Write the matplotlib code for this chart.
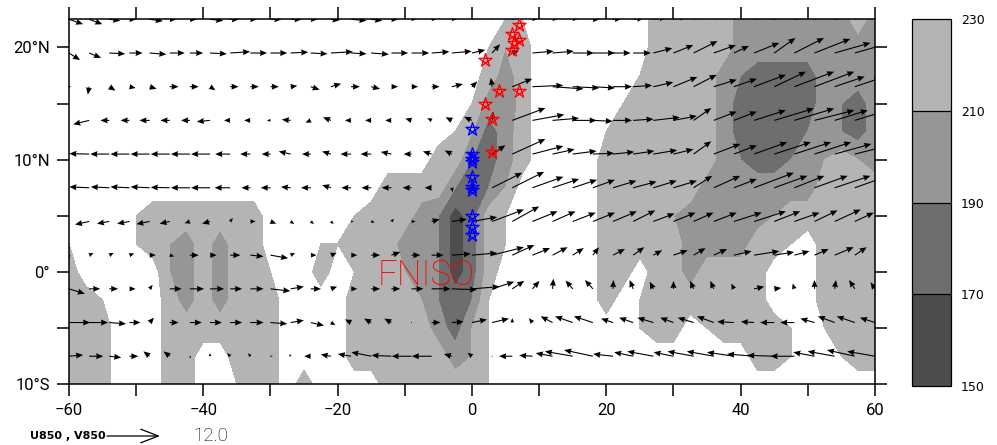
import numpy as np
import matplotlib
matplotlib.use("Agg")
import matplotlib.pyplot as plt
from matplotlib import font_manager as fm
from matplotlib.path import Path

# ---- shaded field (W m-2) on a 2.5 deg grid ----
# one string per latitude (22.5N down to 10S), 60W..60E every 2.5 deg
# digit d stands for 250 - 10*d : 1 clear, 3 = 210-230, 5 = 190-210, 7 = 170-190, 9 = 150-170
olr_lon = np.arange(-60, 60.1, 2.5)
olr_lat = np.arange(22.5, -10.1, -2.5)
olr_rows = [
    "1111111111" "1111111111" "1111112211" "1111133333" "555555535",  # 22.5
    "1111111111" "1111111111" "1111124311" "1111133333" "555555555",  # 20
    "1111111111" "1111111111" "1111135311" "1111233335" "677775555",  # 17.5
    "1111111111" "1111111111" "1111256311" "1112333335" "777775675",  # 15
    "1111111111" "1111111111" "1112475311" "1123333335" "777765675",  # 12.5
    "1111111111" "1111111111" "1133675311" "1133333335" "677654345",  # 10
    "1111111111" "1111111113" "3336764111" "1133333355" "555553333",  # 7.5
    "1111233333" "3311111233" "3569732111" "1133334555" "554333333",  # 5
    "2111234535" "3311122333" "5569732111" "1133333555" "533213333",  # 2.5
    "3111114535" "3321131233" "4569731111" "1133133533" "331113333",  # 0
    "3321113535" "3331111333" "3467621111" "1131233333" "331113333",  # -2.5
    "3331113333" "3331111333" "3357421111" "1111233123" "333212334",  # -5
    "3331113311" "3331111333" "3335421111" "1111111111" "133211233",  # -7.5
    "3331113311" "2331311113" "3333321111" "1111111111" "111111111",  # -10
]
olr = np.array([[250 - 10 * int(c) for c in row] for row in olr_rows], dtype=float)
olr_levels = [150, 170, 190, 210, 230]
olr_colors = ["#4d4d4d", "#6e6e6e", "#969696", "#b4b4b4"]

# ---- 850 hPa wind (m/s), 3 deg grid ----
vec_lon = np.arange(-60, 61, 3)
vec_lat = [22.5, 19.5, 16.5, 13.5, 10.5, 7.5, 4.5, 1.5, -1.5, -4.5, -7.5]
u850 = [
    [3.2, 3.0, 2.5, 1.5, 3.0, 1.5, 1.5, 3.0, 2.0, 1.5, 2.5, 2.5, 1.5, 2.0, 3.5, 2.5, 1.5, 1.0, 1.0, 1.0,
     0.5, 0.3, 0.5, 1.0, 1.0, 1.0, 1.5, 2.0, 2.5, 3.0, 3.0, 3.5, 3.5, 3.5, 4.0, 4.0, 4.5, 4.5, 4.5, 4.5, 4.5],
    [2.5, 2.7, 3.6, 3.0, 3.8, 3.4, 3.0, 3.8, 4.5, 3.8, 3.8, 4.0, 3.8, 5.0, 3.5, 4.0, 3.8, 4.0, 4.0, 4.5,
     3.0, 1.8, 1.5, 4.8, 4.8, 4.8, 5.0, 4.0, 4.0, 4.3, 4.5, 5.4, 5.0, 3.4, 5.7, 4.8, 6.7, 8.1, 8.1, 7.0, 7.0],
    [0.5, -0.3, 1.4, 1.4, 1.6, 2.0, 2.0, 1.2, 1.9, 1.9, 1.9, 1.5, 2.0, 2.3, 2.0, 2.0, 1.5, 1.5, 1.8, 2.5,
     1.2, -0.3, 4.5, 7.0, 7.0, 6.0, 5.0, 4.3, 4.3, 4.5, 5.4, 5.2, 5.2, 5.2, 7.2, 7.2, 9.0, 9.0, 6.8, 6.0, 6.0],
    [-3.0, -3.6, -2.0, -2.0, -2.3, -2.1, -2.0, -3.0, -1.4, -1.4, -0.8, -2.0, -1.2, -1.8, -1.4, -1.4, -1.4, -1.4, -1.0, -1.4,
     -1.8, 0.3, 7.5, 7.2, 6.0, 5.4, 4.5, 4.3, 4.6, 6.0, 5.3, 4.0, 5.2, 5.2, 7.2, 9.0, 9.0, 9.0, 7.5, 7.5, 7.0],
    [-5.0, -4.5, -4.3, -4.3, -4.3, -4.3, -4.3, -4.3, -3.4, -2.3, -2.0, -2.7, -2.0, -2.0, -2.4, -2.4, -2.4, -1.8, -2.0, -1.6,
     -1.0, 3.0, 7.5, 7.0, 5.0, 5.4, 4.8, 4.8, 4.8, 5.4, 4.5, 4.0, 6.0, 5.2, 7.5, 8.3, 8.3, 8.3, 8.3, 8.0, 8.0],
    [-5.0, -4.5, -4.2, -4.3, -4.3, -4.3, -4.3, -4.3, -3.5, -2.0, -2.2, -2.2, -2.2, -2.0, -2.2, -2.2, -2.2, -2.0, -1.6, 0.2,
     0.8, 6.8, 7.2, 7.0, 6.0, 5.5, 5.0, 5.3, 5.3, 5.3, 5.3, 4.2, 6.0, 5.2, 9.0, 7.5, 6.8, 7.5, 8.1, 7.0, 7.0],
    [-2.0, -3.2, -2.8, -2.8, -3.0, -2.3, -1.2, -1.8, 0.6, 1.2, 1.3, 0.8, 0.7, 0.6, 0.6, 0.8, 0.6, 0.9, 1.8, 3.4,
     5.7, 7.2, 6.1, 5.7, 5.2, 5.2, 5.0, 5.4, 5.0, 4.8, 5.0, 4.5, 5.2, 6.3, 7.2, 5.9, 5.7, 5.2, 5.9, 4.3, 4.0],
    [0.0, 1.0, 1.0, 1.1, 1.4, 1.0, 2.0, 1.5, 2.3, 3.0, 4.0, 1.0, 1.3, 1.3, 1.4, 2.0, 2.0, 2.0, 2.7, 4.3,
     5.7, 7.2, 5.0, 4.0, 3.4, 2.5, 1.4, 2.7, 2.5, 2.0, 3.2, 2.7, 3.0, 4.0, 5.7, 4.5, 3.4, 3.2, 4.3, 2.7, 2.0],
    [3.6, 2.5, 2.0, 1.4, 0.7, 2.7, 3.2, 3.2, 2.7, 3.0, 4.5, 3.0, 2.3, 1.4, 1.4, 2.0, 2.0, 2.7, 4.3, 5.7,
     6.3, 5.0, 2.7, 1.6, 0.2, -1.6, -1.8, 0.1, -0.8, -0.8, 0.0, -0.8, -0.8, -0.6, 2.3, 1.6, -0.4, 0.0, 0.3, -1.3, -1.0],
    [4.8, 4.3, 3.8, 2.5, 1.0, 2.0, 2.7, 2.7, 2.7, 3.0, 3.8, 3.0, 3.0, 1.0, -1.4, -1.6, -1.6, 0.0, 2.0, 2.7,
     3.4, 3.8, 0.0, -0.8, -2.7, -4.0, -4.3, -2.7, -3.2, -3.6, -3.0, -3.6, -3.8, -3.8, -3.0, -3.2, -3.2, -3.2, -3.8, -4.1, -3.4],
    [3.2, 3.2, 2.7, 2.0, -1.4, -1.4, 0.2, 0.0, -0.7, -0.5, 0.5, -0.3, -1.5, -2.3, -3.0, -4.5, -4.5, -4.5, -4.5, -1.8,
     -1.0, 0.0, -3.0, -3.0, -3.8, -6.3, -6.5, -4.5, -4.3, -5.9, -4.5, -5.9, -6.1, -6.1, -6.1, -6.1, -5.4, -4.8, -6.1, -6.3, -6.3],
]
v850 = [
    [-1.1, -1.1, -0.3, 0.0, -0.4, 0.0, 0.0, -0.3, 0.0, 0.0, 0.0, 0.0, 0.0, -0.2, -0.3, -0.3, 0.0, 0.0, 0.0, 0.0,
     0.0, 0.0, 0.0, 0.0, 0.0, 0.0, 0.0, 0.2, 0.3, 0.5, 0.8, 1.0, 1.0, 1.0, 1.2, 1.2, 1.2, 1.2, 1.2, 1.2, 1.2],
    [-1.6, -1.1, -0.2, 0.0, -0.3, 0.0, 0.0, -0.2, 0.3, 0.0, 0.0, 0.2, -0.2, 0.3, -0.2, -0.3, 0.0, 0.0, 0.3, 0.4,
     0.7, 2.0, 0.5, 0.4, 0.4, 0.0, 0.0, 0.0, 0.0, 1.1, 1.8, 2.7, 1.8, 1.6, 2.3, 3.4, 3.4, 3.2, 2.3, 2.0, 2.0],
    [0.0, -1.8, -0.9, -0.3, -0.5, 0.0, 0.0, -0.8, 0.0, 0.0, 0.0, 0.2, -0.7, 0.7, 0.0, -0.5, 0.0, 0.0, 0.0, 0.6,
     1.2, 2.0, 1.8, 0.3, -0.5, -0.3, -0.3, 0.0, 0.3, 1.0, 2.2, 2.7, 1.6, 1.8, 2.7, 3.4, 3.4, 3.4, 2.3, 2.0, 2.0],
    [-0.5, -0.9, 0.0, 0.0, 0.0, 0.0, 0.0, -0.3, 0.0, 0.0, 0.0, 0.2, -0.5, 0.7, 0.0, 0.0, 0.0, 0.4, 0.5, 0.7,
     0.8, 1.9, 2.8, 1.3, 0.5, 0.0, -0.2, 0.0, 0.3, 0.7, 1.0, 2.8, 2.0, 2.0, 2.3, 2.7, 2.7, 2.3, 2.3, 2.3, 2.0],
    [0.0, 0.1, 0.0, 0.0, 0.0, 0.0, 0.0, 0.0, 0.0, 0.0, 0.0, 0.6, 0.0, 0.6, 0.0, 0.0, 0.5, 0.0, 0.6, 0.8,
     0.5, 2.0, 3.4, 1.8, 1.1, 0.7, 0.2, 0.5, 0.7, 0.9, 1.1, 2.9, 2.3, 2.0, 2.7, 2.7, 2.7, 2.7, 2.3, 2.0, 2.0],
    [0.0, 0.2, 0.2, 0.2, 0.2, 0.1, 0.0, 0.0, 0.0, 0.0, 0.0, 0.2, 0.0, 0.6, 0.0, 0.0, 0.0, 0.0, 0.0, -1.0,
     0.5, 3.4, 3.6, 2.5, 2.0, 1.8, 1.8, 1.6, 1.4, 1.6, 1.6, 2.7, 2.7, 2.0, 3.4, 2.7, 2.7, 2.7, 2.7, 2.5, 2.5],
    [-0.5, -0.7, -0.5, -0.5, -0.6, -0.5, -0.4, -0.5, 0.8, 0.0, -0.5, -0.6, -0.6, -0.6, 0.0, -0.2, 0.6, 0.0, 0.5, 0.5,
     1.0, 2.7, 3.4, 2.3, 2.3, 2.0, 2.0, 2.3, 2.5, 1.8, 2.0, 2.0, 2.0, 2.0, 2.3, 2.3, 2.0, 2.5, 2.7, 2.0, 2.0],
    [-0.8, 0.5, 0.5, 0.4, 0.0, -0.3, 0.0, 0.0, 0.0, -0.3, -0.7, 0.5, 0.0, 0.5, 0.0, 0.0, 0.7, 0.0, 0.0, 0.3,
     0.5, 1.8, 2.3, 1.6, 1.8, 1.6, 1.8, 1.4, 1.8, 1.1, 1.1, 1.6, 1.4, 0.9, 0.9, 0.7, 0.9, 1.4, 1.8, 1.8, 1.5],
    [-1.1, 0.0, 0.0, 0.0, 0.9, 0.0, 0.0, 0.0, 0.0, 0.0, -0.5, 0.5, 0.0, 0.5, 0.0, 0.0, 0.0, 0.0, 0.0, -0.2,
     0.5, 1.6, 1.8, 1.8, 2.3, 1.9, 2.0, 2.0, 2.0, 1.6, 1.8, 1.8, 1.8, 1.2, 0.5, 0.2, 1.2, 2.0, 2.0, 2.0, 1.5],
    [0.0, 0.0, -0.3, 0.0, 1.1, 0.0, 0.0, 0.0, 0.0, 0.0, -0.3, 0.5, -0.7, -0.6, 0.7, 0.9, 0.9, 0.0, 0.0, 0.2,
     0.7, 0.9, 1.0, 1.0, 1.4, 1.4, 1.4, 0.9, 1.1, 1.1, 1.1, 1.1, 1.4, 0.2, 0.2, 0.0, 0.0, 0.9, 1.4, 1.4, 1.1],
    [0.3, 0.0, -0.3, 0.0, 1.1, 1.1, -0.5, 0.7, 0.7, 0.7, 0.0, 0.5, 0.0, 0.4, 0.5, 0.9, 0.2, 0.0, 0.0, 0.5,
     0.8, 0.0, 0.0, 0.2, 0.7, 1.1, 1.4, 0.5, 0.9, 1.1, 0.9, 1.1, 1.1, 0.9, 0.5, 0.2, 0.0, 0.9, 1.1, 1.4, 1.1],
]
ref_speed = 12.0

# ---- star positions ----
red_lon = [7.0, 6.0, 7.0, 6.2, 6.0, 1.9, 4.0, 7.0, 1.9, 3.0, 3.0]
red_lat = [22.0, 21.2, 20.7, 20.4, 19.8, 18.9, 16.1, 16.1, 15.0, 13.6, 10.7]
blue_lon = [0.0, 0.0, 0.0, 0.0, 0.0, 0.0, 0.0, 0.0, 0.0, 0.0]
blue_lat = [12.7, 10.5, 10.1, 9.8, 8.5, 7.6, 7.3, 5.0, 4.05, 3.25]


# the original uses thin stroke lettering: look for an installed family with a light face
def light_family():
    for fam in ["Roboto", "Lato", "Open Sans", "Inter", "Noto Sans", "DejaVu Sans"]:
        for f in fm.fontManager.ttflist:
            try:
                w = int(f.weight)
            except (TypeError, ValueError):
                w = 400
            if f.name == fam and w <= 300 and f.style == "normal":
                return fam
    return "DejaVu Sans"


thin = light_family()

# open pentagram drawn as one crossing line
ang = np.deg2rad(90 + 144 * np.arange(6))
star = Path(np.column_stack([np.cos(ang), np.sin(ang)]))

fig = plt.figure(figsize=(9.97, 4.45), dpi=100)
ax = fig.add_axes([0.0692, 0.1364, 0.8084, 0.8202])

cf = ax.contourf(olr_lon, olr_lat, olr, levels=olr_levels, colors=olr_colors)

lon2d, lat2d = np.meshgrid(vec_lon, vec_lat)
q_scale = 12.0 / 0.53  # m/s per inch of arrow
ax.quiver(lon2d, lat2d, np.array(u850), np.array(v850), pivot="tail",
          scale=q_scale, scale_units="inches", units="dots", width=1.1,
          headwidth=5.5, headlength=6.5, headaxislength=6, color="black", zorder=3)

ax.plot(red_lon, red_lat, ls="none", marker=star, ms=10, mfc="none", mec="red", mew=0.9, zorder=4)
ax.plot(blue_lon, blue_lat, ls="none", marker=star, ms=10, mfc="none", mec="blue", mew=0.9, zorder=4)

ax.text(-14, -1.13, "FNISO", color="red", fontsize=25, family=thin, fontweight="light",
        ha="left", va="baseline", zorder=5)

ax.set_xlim(-60, 60)
ax.set_ylim(-10, 22.5)
ax.set_xticks(np.arange(-60, 61, 20))
ax.set_xticks(np.arange(-60, 61, 10), minor=True)
ax.set_yticks([-10, 0, 10, 20])
ax.set_yticks(np.arange(-10, 22.6, 5), minor=True)


def lat_label(v, pos):
    if v > 0:
        return f"{v:g}°N"
    if v < 0:
        return f"{-v:g}°S"
    return "0°"


ax.yaxis.set_major_formatter(plt.FuncFormatter(lat_label))
ax.tick_params(which="both", direction="out", length=8.6, width=1.1,
               top=True, right=True, labelsize=12, pad=5)
for lbl in ax.get_xticklabels() + ax.get_yticklabels():
    lbl.set_family(thin)
for sp in ax.spines.values():
    sp.set_linewidth(1.1)

# colour bar
cax = fig.add_axes([0.9147, 0.1326, 0.0391, 0.824])
cb = fig.colorbar(cf, cax=cax, ticks=olr_levels, drawedges=True)
cb.outline.set_linewidth(0.9)
cb.dividers.set_linewidth(0.9)
cax.tick_params(length=0, labelsize=9, pad=7)

# vector legend under the map
fig.text(30 / 997, 9 / 445, "U850 , V850", fontsize=8, fontweight="bold", va="center")
x0 = 107
arrow_px = ref_speed / q_scale * fig.dpi
ax.annotate("", xy=(x0 + arrow_px, 9), xytext=(x0, 9), xycoords="figure pixels",
            textcoords="figure pixels", annotation_clip=False,
            arrowprops=dict(arrowstyle="->, head_length=0.9, head_width=0.35",
                            lw=0.9, color="black", mutation_scale=14,
                            shrinkA=0, shrinkB=0))
fig.text(193 / 997, 9 / 445, f"{ref_speed:.1f}", fontsize=13.5, family=thin,
         fontweight="light", va="center")

fig.savefig("out.png", dpi=100)
